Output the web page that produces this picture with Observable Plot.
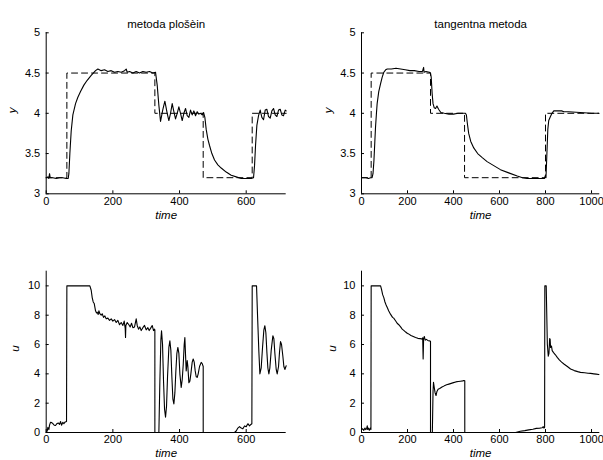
<!DOCTYPE html>
<html>
<head>
<meta charset="utf-8">
<script src="https://cdn.jsdelivr.net/npm/d3@7"></script>
<script src="https://cdn.jsdelivr.net/npm/@observablehq/plot@0.6"></script>
<style>
  html, body { margin: 0; padding: 0; background: #fff; }
  #wrap { position: relative; width: 603px; height: 460px; background: #fff; overflow: hidden; }
  .panel { position: absolute; }
  .panel svg { overflow: visible; }
</style>
</head>
<body>
<div id="wrap"></div>
<script>
// ---------- Titles / labels ----------
const titles = ["metoda plošèin", "tangentna metoda"];
const xLabel = "time";
const yLabelTop = "y";
const yLabelBottom = "u";

// ---------- Tick values ----------
const xTicksLeft = [0, 200, 400, 600];
const xTicksRight = [0, 200, 400, 600, 800, 1000];
const yTicksTop = [3, 3.5, 4, 4.5, 5];
const yTicksBottom = [0, 2, 4, 6, 8, 10];
const xDomainLeft = [0, 720];
const xDomainRight = [0, 1036];
const yDomainTop = [3, 5];
const yDomainBottom = [0, 11];

// ---------- Left: metoda plošèin ----------
const refLeftT = [0, 62, 62, 326, 326, 471, 471, 618, 618, 720];
const refLeftV = [3.2, 3.2, 4.5, 4.5, 4.0, 4.0, 3.2, 3.2, 4.0, 4.0];

const yLeftT = [0, 5, 8, 10, 12, 20, 30, 40, 50, 60, 66,
  68, 71, 75, 80, 88, 95, 103, 113, 123, 135, 148, 155, 165, 175, 185, 195, 205, 215, 225, 235, 240, 243, 250, 260, 270, 280, 290, 300, 310, 320, 328,
  333, 338, 343, 350, 356, 363, 368, 373, 378, 383, 388, 393, 398, 403, 408, 413, 418, 423, 428, 433, 438, 443, 448, 453, 458, 463, 468, 472,
  476, 480, 485, 490, 497, 505, 515, 525, 540, 555, 570, 585, 600, 615, 622,
  625, 628, 632, 637, 642, 647, 652, 657, 662, 667, 672, 677, 682, 687, 692, 697, 702, 707, 712, 717, 720];
const yLeftV = [3.2, 3.21, 3.19, 3.25, 3.2, 3.2, 3.19, 3.2, 3.2, 3.19, 3.19,
  3.25, 3.5, 3.78, 3.98, 4.12, 4.2, 4.27, 4.35, 4.41, 4.47, 4.53, 4.55, 4.53, 4.54, 4.52, 4.53, 4.51, 4.52, 4.51, 4.53, 4.55, 4.51, 4.52, 4.50, 4.52, 4.50, 4.52, 4.51, 4.52, 4.50, 4.51,
  4.35, 4.1, 3.9, 4.05, 4.15, 4.0, 3.91, 4.0, 4.12, 4.02, 3.93, 4.0, 4.08, 4.0, 3.91, 4.0, 4.06, 3.97, 3.95, 4.04, 3.98, 4.03, 3.97, 4.02, 3.99, 4.0, 3.98, 4.01,
  3.95, 3.8, 3.68, 3.6, 3.5, 3.42, 3.36, 3.32, 3.27, 3.23, 3.21, 3.19, 3.19, 3.19, 3.2,
  3.35, 3.6, 3.85, 3.97, 4.04, 3.95, 3.92, 4.04, 4.05, 3.96, 3.94, 4.03, 4.06, 3.98, 3.96, 4.04, 4.05, 3.98, 3.97, 4.04, 4.03];

const uLeftT = [0, 3, 5, 8, 10, 13, 16, 20, 24, 28, 32, 36, 40, 43, 46, 50, 53, 57, 61,
  62, 131, 135, 138, 141, 144, 148, 151, 153, 156, 158, 161, 165, 168, 172, 176, 180, 185, 190, 195, 200, 205, 210, 215, 220, 225, 230, 234, 237, 238, 239, 243, 248, 252, 256, 260, 265, 270, 273, 277, 281, 285, 290, 295, 300, 305, 309, 313, 318, 322, 325, 326,
  326, 338, 341, 344, 346, 349, 352, 355, 358, 361, 364, 368, 371, 374, 377, 380, 383, 386, 389, 392, 395, 398, 401, 405, 408, 411, 414, 416, 418, 420, 423, 425, 428, 431, 434, 438, 441, 444, 447, 450, 453, 456, 460, 465, 468, 471,
  471, 565, 570, 575, 580, 585, 590, 595, 600, 605, 610, 614, 617,
  618, 631, 634, 638, 641, 645, 649, 653, 656, 659, 662, 665, 668, 671, 675, 680, 683, 686, 690, 693, 697, 700, 703, 706, 710, 713, 716, 720];
const uLeftV = [0, 0.1, 0.35, 0.2, 0.5, 0.7, 0.68, 0.6, 0.5, 0.48, 0.6, 0.65, 0.55, 0.75, 0.5, 0.7, 0.6, 0.72, 0.75,
  10, 10, 9.7, 9.2, 8.9, 8.8, 8.3, 8.15, 8.2, 8.05, 8.3, 8.1, 8.0, 8.1, 7.85, 7.95, 7.75, 7.8, 7.65, 7.75, 7.6, 7.7, 7.5, 7.65, 7.35, 7.5, 7.3, 7.6, 7.1, 6.48, 7.3, 7.5, 7.35, 7.2, 7.45, 7.15, 7.2, 7.75, 7.3, 7.05, 7.2, 6.95, 7.15, 7.3, 7.0, 7.15, 6.95, 7.1, 7.3, 6.95, 7.05, 7.0,
  0, 0, 3.5, 6.3, 6.94, 6.0, 3.5, 1.6, 1.04, 1.8, 3.8, 5.8, 6.26, 5.6, 3.8, 2.3, 1.95, 2.7, 4.2, 5.4, 5.8, 5.4, 4.0, 3.08, 3.6, 4.6, 6.0, 6.48, 5.3, 4.2, 4.9, 4.5, 3.4, 3.5, 4.0, 4.8, 5.01, 4.8, 4.2, 3.8, 3.76, 4.0, 4.5, 4.78, 4.7, 4.5,
  0, 0, 0.1, 0.3, 0.4, 0.3, 0.25, 0.45, 0.4, 0.6, 0.45, 0.55, 0.6,
  10, 10, 8, 5.5, 4.0, 4.4, 5.8, 7.0, 7.28, 6.8, 5.5, 4.4, 4.0, 4.4, 5.6, 6.6, 6.4, 5.4, 4.3, 4.0, 4.5, 5.5, 6.2, 6.0, 5.2, 4.5, 4.3, 4.55];

// ---------- Right: tangentna metoda ----------
const refRightT = [0, 42, 42, 300, 300, 448, 448, 800, 800, 1032];
const refRightV = [3.2, 3.2, 4.5, 4.5, 4.0, 4.0, 3.2, 3.2, 4.0, 4.0];

const yRightT = [0, 20, 30, 40, 46, 50, 54, 58, 61, 65, 68, 75, 83, 90, 97, 105, 112, 130, 150, 170, 190, 210, 230, 250, 265, 270, 272, 280, 295, 300,
  303, 307, 311, 316, 322, 328, 335, 345, 360, 380, 400, 420, 440, 452,
  456, 460, 466, 475, 488, 505, 525, 546, 575, 604, 640, 677, 700, 720, 760, 795, 800, 802,
  806, 810, 814, 820, 828, 836, 850, 870, 880, 900, 950, 1000, 1032];
const yRightV = [3.2, 3.2, 3.19, 3.2, 3.2, 3.25, 3.41, 3.65, 3.83, 4.0, 4.12, 4.27, 4.37, 4.45, 4.51, 4.54, 4.55, 4.55, 4.56, 4.55, 4.54, 4.53, 4.53, 4.52, 4.52, 4.57, 4.51, 4.52, 4.51, 4.5,
  4.45, 4.25, 4.12, 4.07, 4.06, 4.09, 4.05, 4.01, 4.0, 3.99, 3.99, 4.0, 4.0, 4.0,
  3.98, 3.88, 3.75, 3.65, 3.57, 3.5, 3.45, 3.4, 3.35, 3.3, 3.26, 3.22, 3.2, 3.19, 3.19, 3.19, 3.23, 3.2,
  3.5, 3.8, 3.91, 3.95, 4.0, 4.03, 4.03, 4.03, 4.02, 4.02, 4.01, 4.0, 4.0];

const uRightT = [0, 5, 10, 15, 18, 22, 25, 27, 30, 34, 38, 41,
  42, 83, 88, 92, 97, 102, 107, 112, 118, 126, 135, 140, 148, 155, 162, 170, 177, 185, 192, 200, 206, 215, 225, 235, 245, 255, 262, 266, 268, 270, 273, 277, 282, 288, 295, 300,
  300, 308, 311, 313, 316, 320, 324, 328, 333, 340, 350, 360, 370, 380, 390, 400, 410, 420, 430, 440, 445, 449,
  449, 670, 690, 710, 727, 745, 760, 775, 785, 790, 793, 796,
  797, 803, 808, 812, 815, 818, 820, 822, 826, 829, 835, 843, 851, 860, 870, 880, 895, 909, 925, 940, 952, 970, 985, 996, 1010, 1020, 1032];
const uRightV = [0.2, 0.25, 0.15, 0.3, 0.2, 0.25, 0.45, 0.2, 0.3, 0.15, 0.3, 0.2,
  10, 10, 9.7, 9.4, 9.2, 8.9, 8.7, 8.52, 8.3, 8.07, 7.85, 7.8, 7.62, 7.45, 7.35, 7.2, 7.05, 6.95, 6.85, 6.75, 6.71, 6.62, 6.55, 6.48, 6.42, 6.4, 6.37, 6.45, 5.01, 6.4, 6.55, 6.3, 6.35, 6.28, 6.25, 6.22,
  0, 0, 2.8, 3.42, 3.1, 2.7, 2.52, 2.8, 2.95, 3.0, 3.1, 3.18, 3.25, 3.3, 3.35, 3.4, 3.45, 3.48, 3.5, 3.52, 3.55, 3.53,
  0, 0, 0.08, 0.13, 0.18, 0.22, 0.28, 0.3, 0.32, 0.4, 0.3, 0.35,
  10, 10, 6, 5.2, 5.4, 6.4, 6.37, 5.8, 5.9, 5.58, 5.45, 5.3, 5.12, 4.95, 4.8, 4.67, 4.5, 4.33, 4.22, 4.15, 4.1, 4.07, 4.04, 4.03, 4.0, 3.98, 3.95];

// ---------- helpers ----------
const zip = (T, V) => T.map((t, i) => ({t, v: V[i]}));
const FONT = "'Liberation Sans', Arial, Helvetica, sans-serif";
const plainFmt = d => String(d);

function panel(o) {
  const fw = o.width - o.ml - o.mr;
  const fh = o.height - o.mt - o.mb;
  const tickLen = 3;
  const kx = (o.xDomain[1] - o.xDomain[0]) * tickLen / fw;
  const ky = (o.yDomain[1] - o.yDomain[0]) * tickLen / fh;
  const marks = [
    Plot.ruleX([o.xDomain[0]], {y1: o.yDomain[0], y2: o.yDomain[1], stroke: "#000", strokeWidth: 1}),
    Plot.ruleY([o.yDomain[0]], {x1: o.xDomain[0], x2: o.xDomain[1], stroke: "#000", strokeWidth: 1}),
    Plot.ruleX(o.xTicks, {x: d => d, y1: o.yDomain[0], y2: o.yDomain[0] + ky, stroke: "#000"}),
    Plot.ruleY(o.yTicks, {y: d => d, x1: o.xDomain[0], x2: o.xDomain[0] + kx, stroke: "#000"})
  ];
  if (o.ref) marks.push(Plot.line(o.ref, {x: "t", y: "v", stroke: "#000", strokeWidth: 1, strokeDasharray: "6,4"}));
  marks.push(Plot.line(o.data, {x: "t", y: "v", stroke: "#000", strokeWidth: 1.1, curve: "linear"}));
  if (o.title) marks.push(Plot.text([o.title], {text: d => d, frameAnchor: "top", dy: -13, fontSize: 11.5, fill: "#000"}));
  marks.push(Plot.text([xLabel], {text: d => d, frameAnchor: "bottom", dy: o.xlabDy, fontSize: 11.5, fontStyle: "italic", fill: "#000"}));
  marks.push(Plot.text([o.ylabel], {text: d => d, frameAnchor: "left", dx: o.ylabDx, rotate: -90, fontSize: 11.5, fontStyle: "italic", fill: "#000"}));
  const chart = Plot.plot({
    width: o.width, height: o.height,
    marginLeft: o.ml, marginRight: o.mr, marginTop: o.mt, marginBottom: o.mb,
    style: {fontFamily: FONT, fontSize: "11px", color: "#000", background: "none", overflow: "visible"},
    x: {domain: o.xDomain, ticks: o.xTicks, tickSize: 0, tickPadding: 3, label: null, tickFormat: plainFmt},
    y: {domain: o.yDomain, ticks: o.yTicks, tickSize: 0, tickPadding: 6, label: null, tickFormat: plainFmt},
    marks
  });
  const div = document.createElement("div");
  div.className = "panel";
  div.style.left = o.left + "px";
  div.style.top = o.top + "px";
  div.appendChild(chart);
  document.getElementById("wrap").appendChild(div);
}

panel({left: 0, top: 0, width: 300, height: 230, ml: 45.7, mr: 14.3, mt: 32.3, mb: 36.7,
  xDomain: xDomainLeft, yDomain: yDomainTop, xTicks: xTicksLeft, yTicks: yTicksTop,
  ref: zip(refLeftT, refLeftV), data: zip(yLeftT, yLeftV), title: titles[0], ylabel: yLabelTop, xlabDy: 25, ylabDx: -33.7});
panel({left: 300, top: 0, width: 303, height: 230, ml: 61, mr: 3.7, mt: 32.3, mb: 36.7,
  xDomain: xDomainRight, yDomain: yDomainTop, xTicks: xTicksRight, yTicks: yTicksTop,
  ref: zip(refRightT, refRightV), data: zip(yRightT, yRightV), title: titles[1], ylabel: yLabelTop, xlabDy: 25, ylabDx: -32.7});
panel({left: 0, top: 230, width: 300, height: 230, ml: 45.7, mr: 14.3, mt: 40.7, mb: 28,
  xDomain: xDomainLeft, yDomain: yDomainBottom, xTicks: xTicksLeft, yTicks: yTicksBottom,
  data: zip(uLeftT, uLeftV), ylabel: yLabelBottom, xlabDy: 24.5, ylabDx: -30.7});
panel({left: 300, top: 230, width: 303, height: 230, ml: 61, mr: 3.7, mt: 40.7, mb: 28,
  xDomain: xDomainRight, yDomain: yDomainBottom, xTicks: xTicksRight, yTicks: yTicksBottom,
  data: zip(uRightT, uRightV), ylabel: yLabelBottom, xlabDy: 24.5, ylabDx: -29.3});
</script>
</body>
</html>
